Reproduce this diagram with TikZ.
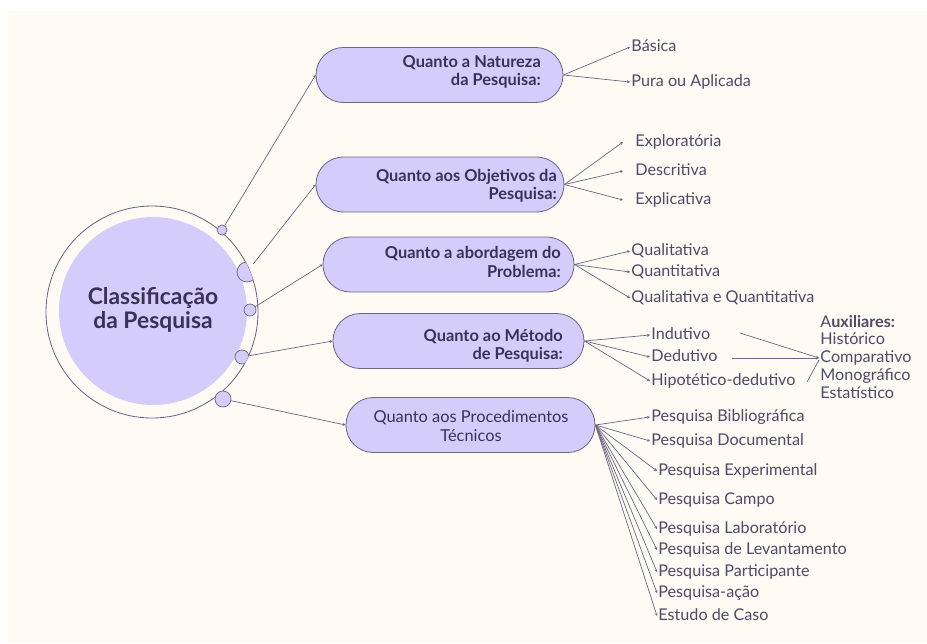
\documentclass[tikz,border=0pt]{standalone}
\usepackage{fontspec}
\setmainfont{Lato}
\usetikzlibrary{arrows.meta}
\definecolor{lilas}{HTML}{D4CCFB}
\definecolor{fundo}{HTML}{FEFBF5}
\definecolor{tinta}{HTML}{3A3157}
\definecolor{cinza}{HTML}{4F4A66}
\definecolor{traco}{HTML}{6B6680}
\tikzset{
  caixa/.style={draw=traco, fill=lilas, rounded corners=0.82cm, minimum height=1.65cm, line width=0.7pt},
  titulo/.style={text=tinta, font=\bfseries\fontsize{14}{15.5}\selectfont, align=right, anchor=east, inner sep=0pt},
  folha/.style={text=cinza, font=\fontsize{13.8}{15}\selectfont, anchor=west, inner sep=1pt, text height=10pt, text depth=3pt},
  liga/.style={draw=traco, line width=0.6pt, -{Stealth[length=2.5pt,width=2.5pt]}},
  bolha/.style={circle, draw=traco, fill=lilas, line width=0.6pt, inner sep=0pt},
}
\begin{document}
\begin{tikzpicture}[x=0.03cm, y=-0.03cm] %Classificacao da pesquisa
    \useasboundingbox (0,0) rectangle (927,643);
    \fill[white] (0,0) rectangle (927,643);
    \fill[fundo] (7,11) rectangle (927,643);

    % circulo central
    \fill[lilas] (153,311) circle (94);
    \draw[traco, line width=0.7pt] (152,312) circle (106);
    \begin{scope}
        \clip (152,312) circle (106);
        \node[bolha, minimum size=0.6cm] (p2) at (247,272) {};
        \node[bolha, minimum size=0.36cm] (p3) at (250,310) {};
        \node[bolha, minimum size=0.42cm] (p4) at (242,357) {};
    \end{scope}
    \node[bolha, minimum size=0.3cm] (p1) at (222,230) {};
    \node[bolha, minimum size=0.48cm] (p5) at (223,399) {};
    \node[text=tinta, font=\bfseries\fontsize{19.5}{21}\selectfont, align=center] (raiz) at (153,310) {Classificação\\da Pesquisa};

    % caixas
    \node[caixa, minimum width=7.41cm] (b1) at (439.5,75) {};
    \node[caixa, minimum width=7.44cm] (b2) at (440,184.5) {};
    \node[caixa, minimum width=7.53cm] (b3) at (448.5,264.5) {};
    \node[caixa, minimum width=7.53cm] (b4) at (458.5,341) {};
    \node[caixa, minimum width=7.47cm] (b5) at (470.5,425) {};

    \node[titulo] (t1) at (541,72) {Quanto a Natureza\\da Pesquisa:};
    \node[titulo] (t2) at (557,186) {Quanto aos Objetivos da\\Pesquisa:};
    \node[titulo] (t3) at (561,262) {Quanto a abordagem do\\Problema:};
    \node[titulo] (t4) at (563,346) {Quanto ao Método\\de Pesquisa:};
    \node[titulo, font=\fontsize{14}{15.5}\selectfont, align=center, anchor=center] (t5) at (471,426) {Quanto aos Procedimentos\\Técnicos};

    \draw[liga] (p1) -- (b1.west);
    \draw[liga] (p2) -- (b2.west);
    \draw[liga] (p3) -- (b3.west);
    \draw[liga] (p4) -- (b4.west);
    \draw[liga] (p5) -- (b5.west);

    % folhas
    \node[folha] (bas) at (630,47) {Básica};
    \node[folha] (pur) at (630,82) {Pura ou Aplicada};
    \foreach \n in {bas, pur}
        \draw[liga] (b1.east) -- (\n.west);

    \node[folha] (exp) at (634,142) {Exploratória};
    \node[folha] (des) at (634,171) {Descritiva};
    \node[folha] (epl) at (634,200) {Explicativa};
    \foreach \n in {exp, des, epl}
        \draw[liga] (b2.east) -- ([xshift=-0.33cm]\n.west);

    \node[folha] (qli) at (630,251) {Qualitativa};
    \node[folha] (qnt) at (630,272) {Quantitativa};
    \node[folha] (qeq) at (630,298) {Qualitativa e Quantitativa};
    \foreach \n in {qli, qnt, qeq}
        \draw[liga] (b3.east) -- (\n.west);

    \node[folha] (ind) at (650,335) {Indutivo};
    \node[folha] (ded) at (650,357) {Dedutivo};
    \node[folha] (hip) at (650,381) {Hipotético-dedutivo};
    \foreach \n in {ind, ded, hip}
        \draw[liga] (b4.east) -- (\n.west);

    % auxiliares
    \node[folha] (aux) at (819,323) {A\textbf{uxiliares:}};
    \node[folha] (his) at (819,340) {Histórico};
    \node[folha] (com) at (819,358) {Comparativo};
    \node[folha] (mon) at (819,376) {Monográfico};
    \node[folha] (est) at (819,394) {Estatístico};
    \coordinate (a1) at (740,333);
    \coordinate (a2) at (732,358);
    \coordinate (a3) at (807,382);
    \draw[liga] (a1) -- (com.west);
    \draw[liga] (a2) -- (com.west);
    \draw[traco, line width=0.6pt] (a3) -- ([yshift=-0.06cm]com.west);

    \node[folha] (bib) at (650,417) {Pesquisa Bibliográfica};
    \node[folha] (doc) at (650,441) {Pesquisa Documental};
    \node[folha] (xpe) at (657,471) {Pesquisa Experimental};
    \node[folha] (cam) at (657,500) {Pesquisa Campo};
    \node[folha] (lab) at (657,529) {Pesquisa Laboratório};
    \node[folha] (lev) at (657,550) {Pesquisa de Levantamento};
    \node[folha] (par) at (657,572) {Pesquisa Participante};
    \node[folha] (pac) at (657,593) {Pesquisa-ação};
    \node[folha] (cas) at (657,616) {Estudo de Caso};
    \foreach \n in {bib, doc, xpe, cam, lab, lev, par, pac, cas}
        \draw[liga] (b5.east) -- (\n.west);
\end{tikzpicture}
\end{document}
